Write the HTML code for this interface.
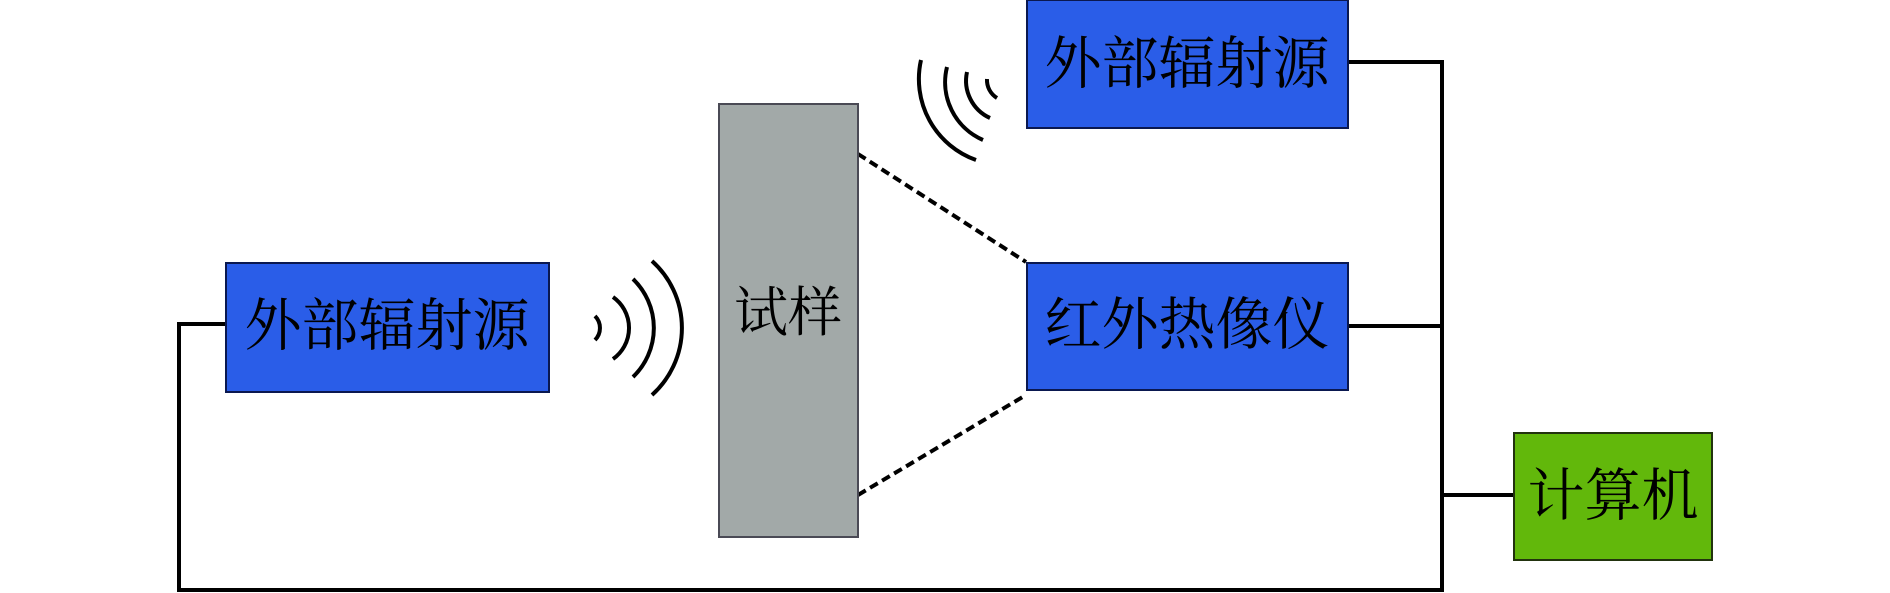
<!DOCTYPE html>
<html><head><meta charset="utf-8"><style>
html,body{margin:0;padding:0;background:#fff;}
svg{display:block}
text{font-family:"Liberation Serif","Noto Serif CJK SC",serif;fill:#000;}
</style></head><body>
<svg width="1890" height="593" viewBox="0 0 1890 593" xmlns="http://www.w3.org/2000/svg">
<g fill="none" stroke="#000" stroke-width="4">
<polyline points="225,324 179,324 179,590 1442,590 1442,62 1348,62"/>
<line x1="1348" y1="326" x2="1442" y2="326"/>
<line x1="1442" y1="495" x2="1513" y2="495"/>
</g>
<g fill="none" stroke="#000" stroke-width="4" stroke-dasharray="9,5">
<line x1="858" y1="154" x2="1026" y2="262"/>
<line x1="858" y1="495" x2="1026" y2="395"/>
</g>
<g fill="none" stroke="#000" stroke-width="4">
<path d="M595,316 A17,17 0 0 1 595,340"/>
<path d="M613,297 A38,38 0 0 1 613,359"/>
<path d="M633,279 A68,68 0 0 1 633,377"/>
<path d="M652,261 A90,90 0 0 1 652,395"/>
<path d="M987,79 A21,21 0 0 0 997,98"/>
<path d="M967,72 A41,41 0 0 0 990,118"/>
<path d="M947,67 A63,63 0 0 0 983,140"/>
<path d="M921,60 A86,86 0 0 0 976,160"/>
</g>
<rect x="226" y="263" width="323" height="129" fill="#2a5de8" stroke="#0a1850" stroke-width="2"/>
<text x="387" y="345" font-size="57" text-anchor="middle">外部辐射源</text>
<rect x="719" y="104" width="139" height="433" fill="#a2a9a8" stroke="#4a4a55" stroke-width="2"/>
<text x="788" y="331" font-size="54" text-anchor="middle">试样</text>
<rect x="1027" y="0" width="321" height="128" fill="#2a5de8" stroke="#0a1850" stroke-width="2"/>
<text x="1187" y="83" font-size="57" text-anchor="middle">外部辐射源</text>
<rect x="1027" y="263" width="321" height="127" fill="#2a5de8" stroke="#0a1850" stroke-width="2"/>
<text x="1187" y="344" font-size="57" text-anchor="middle">红外热像仪</text>
<rect x="1514" y="433" width="198" height="127" fill="#62b80b" stroke="#22330e" stroke-width="2"/>
<text x="1613" y="515" font-size="57" text-anchor="middle">计算机</text>
</svg>
</body></html>
